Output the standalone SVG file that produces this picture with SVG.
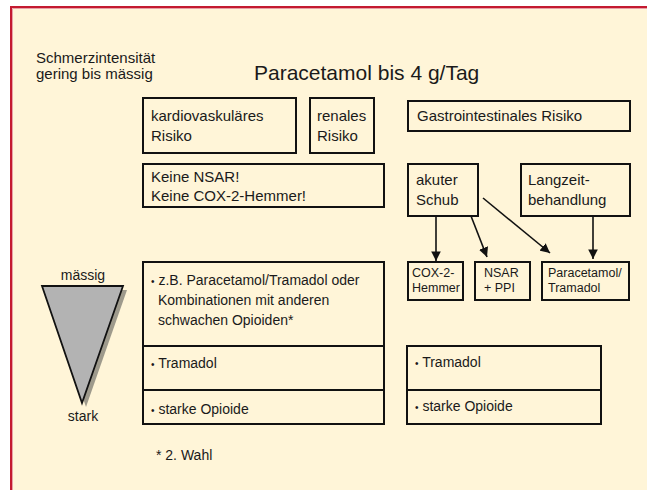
<svg xmlns="http://www.w3.org/2000/svg" width="647" height="490" viewBox="0 0 647 490">
<defs>
<style>
text{font-family:"Liberation Sans",Arial,sans-serif;fill:#1a1a1a;font-size:15px}
.s14{font-size:14px}
.s12{font-size:12.5px}
.b{font-size:10px}
.box{fill:none;stroke:#111;stroke-width:2}
.div{stroke:#111;stroke-width:2}
.con{stroke:#111;stroke-width:1.6;fill:none;marker-end:url(#ah)}
</style>
<marker id="ah" viewBox="0 0 10 10" refX="10" refY="5" markerWidth="6" markerHeight="6" markerUnits="strokeWidth" orient="auto">
<path d="M0,0 L10,5 L0,10 z" fill="#111"/>
</marker>
</defs>
<rect width="647" height="490" fill="#ffffff"/>
<rect x="11" y="7" width="640" height="490" fill="#fff5d8" stroke="#c41a30" stroke-width="2"/>
<line x1="12.5" y1="8.5" x2="647" y2="8.5" stroke="#e8a0a8" stroke-width="1"/>
<line x1="12.5" y1="8.5" x2="12.5" y2="490" stroke="#e8a0a8" stroke-width="1"/>

<g id="header">
<text x="36" y="63">Schmerzintensität</text>
<text x="36" y="79">gering bis mässig</text>
<text x="254" y="80" style="font-size:21px">Paracetamol bis 4 g/Tag</text>
</g>

<g id="kardio">
<rect class="box" x="143" y="98" width="153" height="55"/>
<text x="151" y="121">kardiovaskuläres</text>
<text x="151" y="141">Risiko</text>
</g>
<g id="renal">
<rect class="box" x="310" y="98" width="64" height="55"/>
<text x="317" y="121">renales</text>
<text x="317" y="141">Risiko</text>
</g>
<g id="gastro">
<rect class="box" x="408" y="101" width="222" height="30"/>
<text x="417" y="121">Gastrointestinales Risiko</text>
</g>
<g id="keine">
<rect class="box" x="143" y="164" width="241" height="43"/>
<text x="151" y="182">Keine NSAR!</text>
<text x="151" y="201">Keine COX-2-Hemmer!</text>
</g>
<g id="akut">
<rect class="box" x="408" y="164" width="70" height="52"/>
<text x="416" y="185">akuter</text>
<text x="416" y="205">Schub</text>
</g>
<g id="langzeit">
<rect class="box" x="521" y="164" width="109" height="52"/>
<text x="528" y="185">Langzeit-</text>
<text x="528" y="205">behandlung</text>
</g>
<g id="cox">
<rect class="box" x="408" y="262" width="55" height="38"/>
<text class="s12" x="412" y="277">COX-2-</text>
<text class="s12" x="412" y="292">Hemmer</text>
</g>
<g id="nsarppi">
<rect class="box" x="475" y="262" width="55" height="38"/>
<text class="s12" x="484" y="277">NSAR</text>
<text class="s12" x="484" y="292">+ PPI</text>
</g>
<g id="paratram">
<rect class="box" x="542" y="262" width="87" height="38"/>
<text class="s12" x="548" y="277">Paracetamol/</text>
<text class="s12" x="548" y="292">Tramadol</text>
</g>

<g id="connectors">
<line class="con" x1="436" y1="216" x2="436" y2="261"/>
<line class="con" x1="471" y1="216" x2="487" y2="257"/>
<line class="con" x1="483" y1="198" x2="550" y2="253"/>
<line class="con" x1="593" y1="216" x2="593" y2="259"/>
</g>

<g id="triangle">
<polygon points="46,290 127,290 86,407" fill="#9e9a8c"/>
<polygon points="42,286 123,286 82,403" fill="#b3b3b3" stroke="#111" stroke-width="1.8" stroke-linejoin="miter"/>
<text class="s14" x="83" y="280" text-anchor="middle">mässig</text>
<text class="s14" x="83" y="421" text-anchor="middle">stark</text>
</g>

<g id="leftbox">
<rect class="box" x="143" y="262" width="241" height="162"/>
<line class="div" x1="143" y1="346" x2="384" y2="346"/>
<line class="div" x1="143" y1="390" x2="384" y2="390"/>
<text class="s14" x="151" y="285"><tspan class="b">•</tspan> z.B. Paracetamol/Tramadol oder</text>
<text class="s14" x="158" y="305">Kombinationen mit anderen</text>
<text class="s14" x="158" y="325">schwachen Opioiden*</text>
<text class="s14" x="151" y="368"><tspan class="b">•</tspan> Tramadol</text>
<text class="s14" x="151" y="414"><tspan class="b">•</tspan> starke Opioide</text>
</g>

<g id="rightbox">
<rect class="box" x="407" y="346" width="194" height="78"/>
<line class="div" x1="407" y1="390" x2="601" y2="390"/>
<text class="s14" x="415" y="367"><tspan class="b">•</tspan> Tramadol</text>
<text class="s14" x="415" y="411"><tspan class="b">•</tspan> starke Opioide</text>
</g>

<g id="footnote">
<text class="s14" x="156" y="460">* 2. Wahl</text>
</g>
</svg>
